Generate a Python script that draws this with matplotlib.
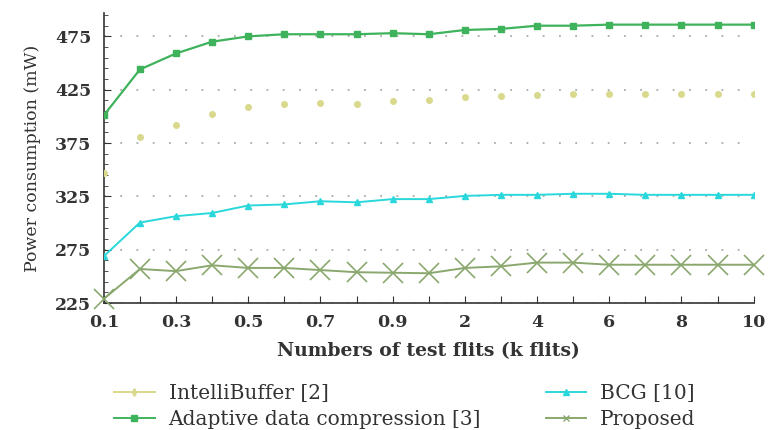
import matplotlib
matplotlib.use("Agg")
import matplotlib.pyplot as plt
from matplotlib.lines import Line2D

# test sizes (k flits), drawn at evenly spaced positions
flits = ["0.1", "0.2", "0.3", "0.4", "0.5", "0.6", "0.7", "0.8", "0.9", "1",
         "2", "3", "4", "5", "6", "7", "8", "9", "10"]
tick_labels = ["0.1", "", "0.3", "", "0.5", "", "0.7", "", "0.9", "",
               "2", "", "4", "", "6", "", "8", "", "10"]

intellibuffer = [347, 381, 392, 402, 409, 412, 413, 412, 414, 415,
                 418, 419, 420, 421, 421, 421, 421, 421, 421]
adaptive = [401, 444, 459, 470, 475, 477, 477, 477, 478, 477,
            481, 482, 485, 485, 486, 486, 486, 486, 486]
bcg = [269, 300.5, 306.5, 309.5, 316.5, 317.5, 320.5, 319.5, 322.5, 322.5,
       325.5, 326.5, 326.5, 327.5, 327.5, 326.5, 326.5, 326.5, 326.5]
proposed = [229, 257, 255, 260.5, 258, 258, 256, 254, 253.5, 253,
            258, 259.5, 263, 263, 261, 261, 261, 261, 261]

c_ib = "#d8d98c"
c_ad = "#3fb35c"
c_bcg = "#2ad8dc"
c_pr = "#8aa86e"

plt.rcParams['font.family'] = ['DejaVu Serif']

fig = plt.figure(figsize=(7.69, 4.30), dpi=100)
ax = fig.add_axes([0.135, 0.295, 0.845, 0.675])

x = list(range(len(flits)))

ax.plot(x, intellibuffer, linestyle='none', marker='o', markersize=4,
        color=c_ib, zorder=3)
ax.plot(x, adaptive, '-', marker='s', markersize=5, linewidth=1.6,
        color=c_ad, zorder=4)
ax.plot(x, bcg, '-', marker='^', markersize=5, linewidth=1.4,
        color=c_bcg, zorder=4)
ax.plot(x, proposed, '-', marker='x', markersize=15, markeredgewidth=1.2,
        linewidth=1.4, color=c_pr, zorder=4, clip_on=False)

ax.set_xlim(0, len(flits) - 1)
ax.set_ylim(225, 497)
ax.set_xticks(x)
ax.set_xticklabels(tick_labels, fontsize=12.5, fontweight='bold', color='#333333')
ax.set_yticks([225, 275, 325, 375, 425, 475])
ax.set_yticks(range(235, 497, 10), minor=True)
ax.tick_params(axis='y', which='major', labelsize=12.5, colors='#333333',
               direction='in', length=5, pad=9)
ax.tick_params(axis='y', which='minor', direction='in', length=3, color='#333333')
ax.tick_params(axis='x', direction='in', length=5, pad=8, colors='#333333')
for lbl in ax.get_yticklabels():
    lbl.set_fontweight('bold')

ax.yaxis.grid(True, linestyle=(0, (1, 8)), color='#aaaaaa', linewidth=1.3)
ax.set_axisbelow(True)
for s in ['top', 'right']:
    ax.spines[s].set_visible(False)
for s in ['left', 'bottom']:
    ax.spines[s].set_color('#333333')
    ax.spines[s].set_linewidth(1.2)

ax.set_xlabel("Numbers of test flits (k flits)", fontsize=13.5,
              fontweight='bold', color='#333333', labelpad=8)
ax.set_ylabel("Power consumption (mW)", fontsize=12.5, color='#333333',
              labelpad=10)

handles = [
    Line2D([], [], color=c_ib, marker='d', markersize=4, linewidth=1.4),
    Line2D([], [], color=c_ad, marker='s', markersize=5, linewidth=1.4),
    Line2D([], [], color=c_bcg, marker='^', markersize=5, linewidth=1.4),
    Line2D([], [], color=c_pr, marker='x', markersize=5, linewidth=1.4),
]
labels = ["IntelliBuffer [2]", "Adaptive data compression [3]",
          "BCG [10]", "Proposed"]
fig.legend(handles, labels, loc='lower left', bbox_to_anchor=(0.125, -0.04),
           ncol=2, frameon=False, fontsize=14.5, handlelength=2.0,
           handletextpad=0.7, columnspacing=3.2, labelspacing=0.35,
           labelcolor='#333333')

fig.savefig("out.png", dpi=100)
